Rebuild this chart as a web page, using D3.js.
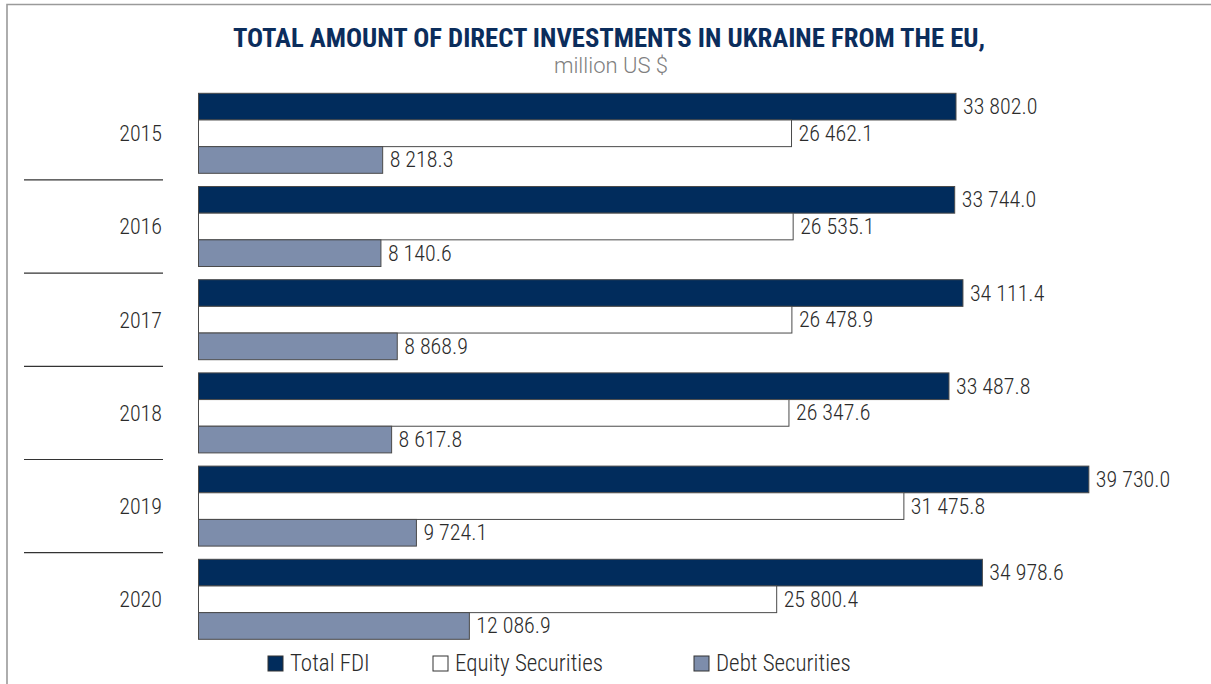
<!DOCTYPE html>
<html><head><meta charset="utf-8">
<script src="https://cdn.jsdelivr.net/npm/d3@7"></script>
<style>
body{margin:0;background:#fff;}
svg{display:block;}
</style></head>
<body>
<svg id="c" width="1211" height="684"></svg>
<script>
const years = ["2015","2016","2017","2018","2019","2020"];
const seriesNames = ["Total FDI","Equity Securities","Debt Securities"];
const totalFDI = [33802.0,33744.0,34111.4,33487.8,39730.0,34978.6];
const equity = [26462.1,26535.1,26478.9,26347.6,31475.8,25800.4];
const debt = [8218.3,8140.6,8868.9,8617.8,9724.1,12086.9];
const title = "TOTAL AMOUNT OF DIRECT INVESTMENTS IN UKRAINE FROM THE EU,";
const subtitle = "million US $";

const colors = {"Total FDI":"#012c5c","Equity Securities":"#ffffff","Debt Securities":"#7d8dab"};
const seriesVals = {"Total FDI":totalFDI,"Equity Securities":equity,"Debt Securities":debt};

const svg = d3.select("#c");
const F = '"Liberation Sans Narrow","Roboto Condensed","Arial Narrow","DejaVu Sans Condensed",sans-serif';
const TXT = "#2b2b2b";

// frame
svg.append("path").attr("d","M7,684 V4.5 H1211").attr("fill","none").attr("stroke","#9a9a9a").attr("stroke-width",1.6);

const x = d3.scaleLinear().domain([0,40000]).range([198.5,1094.9]);
const y = d3.scaleBand().domain(years).range([86.7,645.9]).paddingInner(0.1416).paddingOuter(0.0708);
const ys = d3.scaleBand().domain(seriesNames).range([0,y.bandwidth()]);

const fmt = v => d3.format(",.1f")(v).replace(/,/g," ");

// title
svg.append("text").attr("x",609).attr("y",47).attr("text-anchor","middle")
  .attr("font-family",F).attr("font-weight","bold").attr("font-size",25).attr("fill","#0b2d5c")
  .attr("textLength",752).attr("lengthAdjust","spacingAndGlyphs").text(title);
svg.append("text").attr("x",611).attr("y",73).attr("text-anchor","middle")
  .attr("font-family","Roboto, sans-serif").attr("font-weight",300).attr("font-size",22).attr("fill","#808080").text(subtitle);

const g = svg.append("g").selectAll("g").data(years).join("g")
  .attr("transform", d => `translate(0,${y(d)})`);

seriesNames.forEach(s => {
  g.append("rect")
    .attr("x", x(0))
    .attr("y", ys(s))
    .attr("width", (d,i) => x(seriesVals[s][i]) - x(0))
    .attr("height", ys.bandwidth())
    .attr("fill", colors[s])
    .attr("stroke", "#4a4a4a").attr("stroke-width",1);
  g.append("text")
    .attr("x", (d,i) => x(seriesVals[s][i]) + 7)
    .attr("y", ys(s) + ys.bandwidth()/2 + 7.5)
    .attr("font-family",F).attr("font-weight",300).attr("font-size",22).attr("fill",TXT)
    .text((d,i) => fmt(seriesVals[s][i]));
});

// year labels
g.append("text").attr("x",162).attr("y", y.bandwidth()/2 + 8)
  .attr("text-anchor","end").attr("font-family",F).attr("font-weight",300).attr("font-size",22).attr("fill",TXT)
  .text(d => d);

// separators
const step = y.step();
svg.append("g").selectAll("line").data(years.slice(0,-1)).join("line")
  .attr("x1",24).attr("x2",163)
  .attr("y1", d => y(d) + y.bandwidth() + (step - y.bandwidth())/2)
  .attr("y2", d => y(d) + y.bandwidth() + (step - y.bandwidth())/2)
  .attr("stroke","#333").attr("stroke-width",1.2);

// legend
const legX = [268, 433, 694];
const lg = svg.append("g").selectAll("g").data(seriesNames).join("g")
  .attr("transform",(d,i)=>`translate(${legX[i]},656)`);
lg.append("rect").attr("width",15).attr("height",15).attr("fill",d=>colors[d]).attr("stroke","#333").attr("stroke-width",1);
lg.append("text").attr("x",22).attr("y",15).attr("font-family",F).attr("font-weight",300).attr("font-size",23).attr("fill",TXT).text(d=>d);
</script>
</body></html>
